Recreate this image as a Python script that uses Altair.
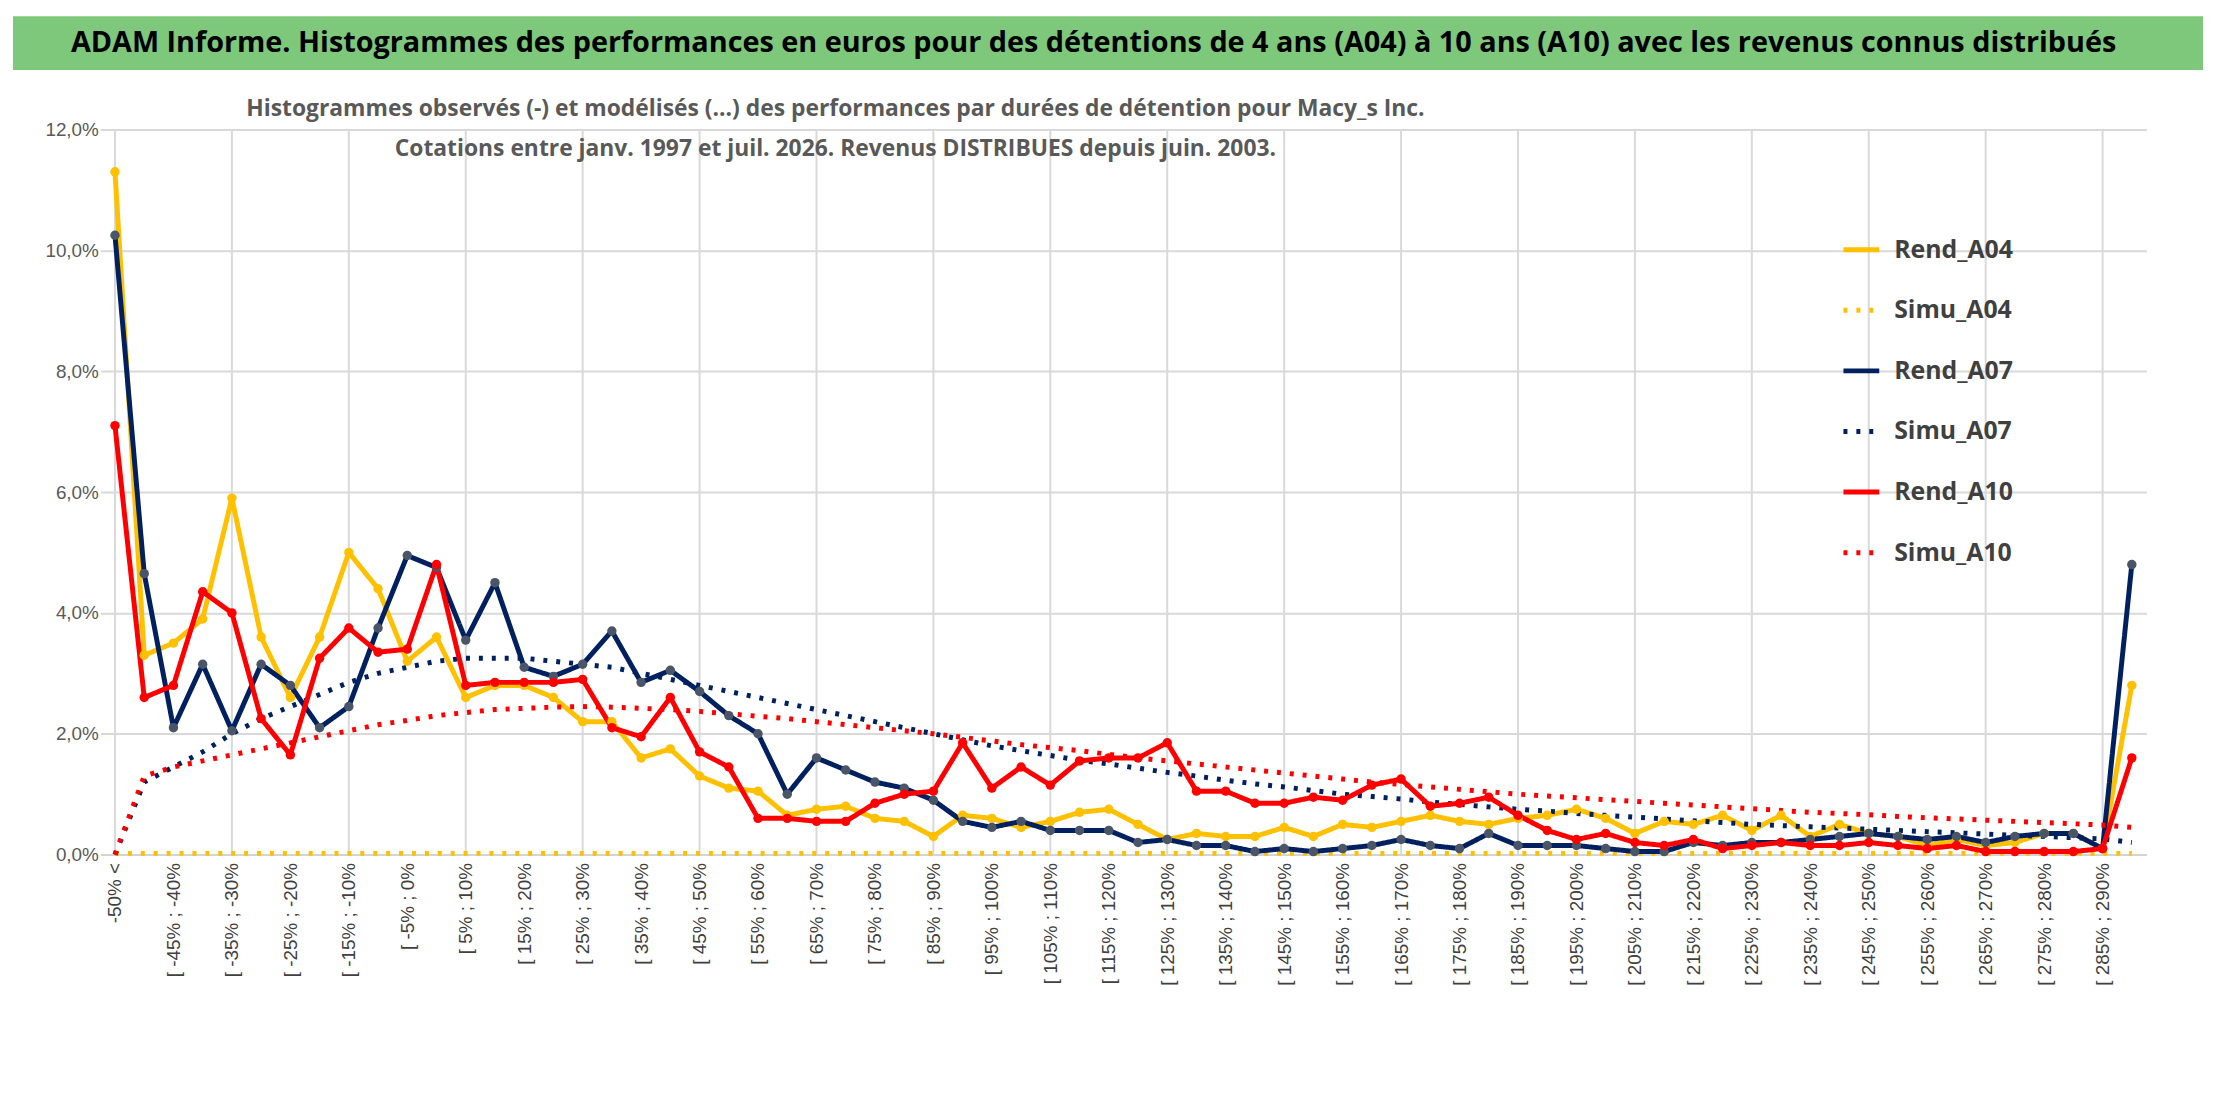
import altair as alt
import pandas as pd

labels = ["-50% <"] + [f"[ {-50+5*k}% ; {-45+5*k}%" for k in range(69)]

rend_a04 = [11.3,3.3,3.5,3.9,5.9,3.6,2.6,3.6,5.0,4.4,
            3.2,3.6,2.6,2.8,2.8,2.6,2.2,2.2,1.6,1.75,
            1.3,1.1,1.05,0.65,0.75,0.8,0.6,0.55,0.3,0.65,
            0.6,0.45,0.55,0.7,0.75,0.5,0.25,0.35,0.3,0.3,
            0.45,0.3,0.5,0.45,0.55,0.65,0.55,0.5,0.6,0.65,
            0.75,0.6,0.35,0.55,0.5,0.65,0.4,0.65,0.3,0.5,
            0.35,0.3,0.15,0.25,0.15,0.2,0.35,0.35,0.1,2.8]
simu_a04 = [0.02]*70
rend_a07 = [10.25,4.65,2.1,3.15,2.05,3.15,2.8,2.1,2.45,3.75,
            4.95,4.75,3.55,4.5,3.1,2.95,3.15,3.7,2.85,3.05,
            2.7,2.3,2.0,1.0,1.6,1.4,1.2,1.1,0.9,0.55,
            0.45,0.55,0.4,0.4,0.4,0.2,0.25,0.15,0.15,0.05,
            0.1,0.05,0.1,0.15,0.25,0.15,0.1,0.35,0.15,0.15,
            0.15,0.1,0.05,0.05,0.2,0.15,0.2,0.2,0.25,0.3,
            0.35,0.3,0.25,0.3,0.2,0.3,0.35,0.35,0.1,4.8]
simu_a07 = [0,1.2,1.45,1.7,2.0,2.25,2.45,2.65,2.85,3.0,
            3.1,3.2,3.25,3.25,3.25,3.2,3.15,3.1,3.0,2.9,
            2.8,2.7,2.6,2.5,2.4,2.3,2.2,2.1,2.0,1.9,
            1.8,1.72,1.64,1.56,1.5,1.43,1.36,1.3,1.23,1.17,
            1.12,1.06,1.0,0.96,0.92,0.87,0.83,0.79,0.75,0.72,
            0.68,0.65,0.62,0.59,0.56,0.53,0.5,0.48,0.46,0.44,
            0.42,0.4,0.38,0.36,0.34,0.32,0.3,0.28,0.26,0.2]
rend_a10 = [7.1,2.6,2.8,4.35,4.0,2.25,1.65,3.25,3.75,3.35,
            3.4,4.8,2.8,2.85,2.85,2.85,2.9,2.1,1.95,2.6,
            1.7,1.45,0.6,0.6,0.55,0.55,0.85,1.0,1.05,1.85,
            1.1,1.45,1.15,1.55,1.6,1.6,1.85,1.05,1.05,0.85,
            0.85,0.95,0.9,1.15,1.25,0.8,0.85,0.95,0.65,0.4,
            0.25,0.35,0.2,0.15,0.25,0.1,0.15,0.2,0.15,0.15,
            0.2,0.15,0.1,0.15,0.05,0.05,0.05,0.05,0.1,1.6]
simu_a10 = [0,1.3,1.45,1.55,1.65,1.75,1.85,1.95,2.05,2.15,
            2.22,2.3,2.35,2.4,2.42,2.44,2.45,2.44,2.42,2.4,
            2.37,2.33,2.29,2.25,2.2,2.15,2.1,2.05,2.0,1.94,
            1.88,1.82,1.77,1.72,1.66,1.6,1.55,1.5,1.45,1.4,
            1.35,1.3,1.25,1.2,1.16,1.12,1.08,1.04,1.0,0.97,
            0.94,0.91,0.88,0.85,0.82,0.79,0.76,0.73,0.7,0.68,
            0.66,0.63,0.61,0.59,0.57,0.55,0.53,0.51,0.49,0.45]

title_text = "ADAM Informe. Histogrammes des performances en euros pour des détentions de 4 ans (A04) à 10 ans (A10) avec les revenus connus distribués"
subtitle_1 = "Histogrammes observés (-) et modélisés (...) des performances par durées de détention pour Macy_s Inc."
subtitle_2 = "Cotations entre janv. 1997 et juil. 2026. Revenus DISTRIBUES depuis juin. 2003."

series = {"Rend_A04": rend_a04, "Simu_A04": simu_a04, "Rend_A07": rend_a07,
          "Simu_A07": simu_a07, "Rend_A10": rend_a10, "Simu_A10": simu_a10}
order = list(series.keys())
rows = []
for name, vals in series.items():
    for i, v in enumerate(vals):
        rows.append({"i": i, "v": v, "s": name})
df = pd.DataFrame(rows)

W, H = 2060, 730
labexpr = "(" + str(labels).replace("'", '"') + ")[datum.value]"
xs = alt.Scale(domain=[-0.5, 69.5], nice=False, zero=False)
ys = alt.Scale(domain=[0, 12], nice=False)

xenc = alt.X("i:Q", scale=xs, axis=alt.Axis(values=list(range(0, 70, 2)), labelExpr=labexpr,
             labelAngle=-90, labelFontSize=19, labelColor="#404040", labelFont="Liberation Sans",
             grid=False, ticks=False, domain=True, domainColor="#d0d0d0", title=None, labelPadding=8))
yenc = alt.Y("v:Q", scale=ys, axis=alt.Axis(values=list(range(0, 13, 2)),
             labelExpr="replace(format(datum.value,'.1f'),'.',',')+'%'",
             labelFontSize=19, labelColor="#595959", labelFont="Liberation Sans",
             gridColor="#d9d9d9", gridWidth=2, ticks=False, domain=False, title=None, labelPadding=2))

colors = ["#FFC000", "#FFC000", "#002060", "#002060", "#FF0000", "#FF0000"]
dashes = [[1, 0], [4, 9], [1, 0], [4, 9], [1, 0], [4, 9]]
leg = alt.Legend(title=None, orient="none", legendX=1752, legendY=100,
                 labelFontSize=25, labelFont="Open Sans", labelFontWeight="bold",
                 labelColor="#404040", symbolType="stroke", symbolSize=1300,
                 symbolStrokeWidth=5, rowPadding=27, labelOffset=12)

vgrid = alt.Chart(pd.DataFrame({"g": list(range(0, 70, 4))})).mark_rule(color="#d9d9d9", strokeWidth=2).encode(
    x=alt.X("g:Q", scale=xs))

lines = alt.Chart(df).mark_line(strokeWidth=5, strokeJoin="round").encode(
    x=xenc, y=yenc,
    color=alt.Color("s:N", scale=alt.Scale(domain=order, range=colors), sort=order, legend=leg),
    strokeDash=alt.StrokeDash("s:N", scale=alt.Scale(domain=order, range=dashes), sort=order, legend=leg),
    order="i:Q", detail="s:N")

pts = alt.Chart(df[df.s.str.startswith("Rend")]).mark_point(filled=True, size=90, opacity=1).encode(
    x=alt.X("i:Q", scale=xs), y=alt.Y("v:Q", scale=ys),
    fill=alt.Fill("s:N", scale=alt.Scale(domain=["Rend_A04", "Rend_A07", "Rend_A10"],
                                         range=["#FFC000", "#4a5568", "#FF0000"]), legend=None))

one = pd.DataFrame({"a": [0]})
band = alt.Chart(one).mark_rect(color="#7DC87A").encode(
    x=alt.value(-88), x2=alt.value(2117), y=alt.value(-114), y2=alt.value(-60))
head = alt.Chart(one).mark_text(fontSize=29, font="Open Sans", fontWeight="bold", color="black",
                                align="center", baseline="middle").encode(
    x=alt.value(1000), y=alt.value(-87), text=alt.value(title_text))
s1 = alt.Chart(one).mark_text(fontSize=23, font="Open Sans", fontWeight="bold", color="#595959",
                              align="center", baseline="middle").encode(
    x=alt.value(740), y=alt.value(-21), text=alt.value(subtitle_1))
s2 = alt.Chart(one).mark_text(fontSize=23, font="Open Sans", fontWeight="bold", color="#595959",
                              align="center", baseline="middle").encode(
    x=alt.value(740), y=alt.value(20), text=alt.value(subtitle_2))

chart = alt.layer(band, head, vgrid, lines, pts, s1, s2).properties(
    width=W, height=H, padding={"left": 5, "top": 5, "right": 5, "bottom": 5}
).configure_view(stroke=None)
chart.save("out.html", embed_options={"renderer": "svg", "actions": False})
